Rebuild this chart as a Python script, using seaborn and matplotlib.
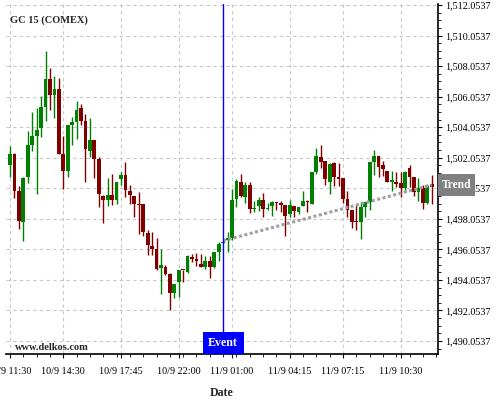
import matplotlib
matplotlib.use("Agg")
import matplotlib.pyplot as plt
import matplotlib.transforms as mtransforms
from matplotlib.patches import Rectangle
from matplotlib.ticker import FixedLocator, FuncFormatter
import numpy as np
import pandas as pd
import seaborn as sns


# 15-minute candles, GC 15 (COMEX)
opens = [
    1501.56, 1502.32, 1499.86, 1497.83, 1500.77, 1502.86, 1503.50, 1504.02, 1505.39, 1507.22,
    1506.13, 1506.57, 1502.32, 1501.17, 1504.22, 1504.41, 1505.33, 1504.48, 1502.52, 1503.24,
    1502.00, 1499.53, 1499.31, 1499.64, 1499.27, 1500.64, 1500.95, 1499.86, 1499.53, 1498.99,
    1499.05, 1497.15, 1496.29, 1496.09, 1494.86, 1494.91, 1494.45, 1493.21, 1493.92, 1494.73,
    1494.56, 1495.52, 1495.43, 1495.10, 1494.88, 1495.30, 1494.93, 1495.85, 1496.47, 1496.67,
    1496.82, 1499.35, 1500.45, 1499.50, 1500.25, 1498.67, 1498.89, 1499.30, 1498.71, 1498.89,
    1499.15, 1499.08, 1498.93, 1498.36, 1498.92, 1498.53, 1498.92, 1499.25, 1499.05, 1501.14,
    1502.12, 1501.81, 1500.48, 1501.72, 1500.81, 1500.75, 1499.33, 1498.66, 1497.92, 1497.83,
    1498.85, 1499.14, 1501.75, 1502.16, 1501.55, 1501.20, 1500.48, 1500.48, 1500.42, 1500.05,
    1501.35, 1500.81, 1499.83, 1500.09, 1499.07, 1500.31,
]
closes = [
    1502.32, 1499.86, 1497.94, 1500.75, 1502.91, 1503.50, 1503.89, 1505.39, 1507.22, 1506.13,
    1506.57, 1502.32, 1501.17, 1504.22, 1504.41, 1505.20, 1504.48, 1502.60, 1503.24, 1502.00,
    1499.66, 1499.27, 1499.64, 1499.27, 1500.49, 1500.95, 1499.92, 1499.64, 1499.05, 1498.94,
    1497.18, 1496.31, 1496.09, 1494.75, 1495.04, 1494.45, 1493.21, 1493.79, 1494.71, 1494.69,
    1495.61, 1495.43, 1495.26, 1494.93, 1495.30, 1494.93, 1495.85, 1496.42, 1496.56, 1496.82,
    1499.26, 1500.51, 1499.52, 1500.25, 1498.69, 1498.73, 1499.30, 1498.71, 1498.78, 1499.13,
    1499.08, 1498.97, 1498.25, 1498.93, 1498.57, 1498.85, 1499.25, 1499.14, 1501.14, 1502.18,
    1501.75, 1500.64, 1501.62, 1500.77, 1500.64, 1499.33, 1498.66, 1497.83, 1497.83, 1498.85,
    1499.14, 1501.75, 1502.16, 1501.42, 1501.33, 1500.48, 1500.62, 1500.31, 1500.05, 1501.14,
    1500.77, 1499.83, 1500.09, 1499.07, 1500.22, 1500.12,
]
highs = [
    1502.82, 1502.35, 1500.23, 1500.78, 1503.80, 1505.02, 1505.33, 1506.11, 1509.03, 1507.96,
    1507.40, 1507.27, 1503.50, 1504.22, 1504.70, 1505.76, 1505.59, 1504.93, 1504.67, 1503.24,
    1502.10, 1499.64, 1500.75, 1500.99, 1500.49, 1501.14, 1501.78, 1500.27, 1499.53, 1499.81,
    1499.05, 1497.30, 1497.21, 1496.77, 1496.07, 1495.02, 1494.51, 1493.79, 1494.71, 1494.73,
    1495.66, 1495.74, 1495.81, 1495.77, 1495.59, 1495.59, 1495.85, 1496.56, 1496.56, 1497.21,
    1500.03, 1500.69, 1501.02, 1500.45, 1500.47, 1499.24, 1499.46, 1499.72, 1499.08, 1499.19,
    1499.15, 1499.21, 1498.93, 1499.30, 1498.92, 1498.85, 1499.88, 1499.29, 1501.14, 1502.70,
    1502.88, 1501.81, 1501.72, 1501.79, 1501.68, 1500.75, 1499.88, 1498.66, 1498.96, 1499.14,
    1499.14, 1501.75, 1502.55, 1502.16, 1501.83, 1501.20, 1501.20, 1501.14, 1501.14, 1501.18,
    1501.57, 1500.81, 1500.70, 1500.27, 1500.31, 1500.92,
]
lows = [
    1500.82, 1499.44, 1497.40, 1496.61, 1500.40, 1502.49, 1499.70, 1503.43, 1504.46, 1505.20,
    1504.65, 1502.30, 1500.03, 1500.80, 1502.86, 1503.28, 1504.19, 1500.47, 1502.10, 1500.71,
    1498.83, 1497.79, 1498.86, 1498.94, 1499.03, 1500.27, 1499.49, 1499.01, 1498.20, 1497.05,
    1496.94, 1495.68, 1495.68, 1494.69, 1493.15, 1494.40, 1492.05, 1492.89, 1492.93, 1493.92,
    1494.51, 1495.21, 1494.99, 1494.88, 1494.77, 1494.18, 1494.80, 1495.28, 1496.45, 1495.90,
    1496.67, 1498.82, 1499.48, 1499.08, 1498.42, 1498.53, 1498.58, 1498.20, 1498.60, 1498.23,
    1498.62, 1498.53, 1496.95, 1498.20, 1498.20, 1498.38, 1498.90, 1498.48, 1499.05, 1500.96,
    1501.40, 1500.27, 1499.68, 1500.22, 1500.22, 1499.07, 1498.14, 1497.44, 1497.31, 1496.75,
    1498.14, 1498.62, 1500.92, 1500.81, 1500.88, 1500.44, 1499.88, 1500.16, 1499.51, 1499.88,
    1500.16, 1499.55, 1499.25, 1498.70, 1499.05, 1499.03,
]

tick_positions = [0, 12, 25, 38, 50, 63, 75, 88]
tick_labels = ["10/9 11:30", "10/9 14:30", "10/9 17:45", "10/9 22:00",
               "11/9 01:00", "11/9 04:15", "11/9 07:15", "11/9 10:30"]
price_ticks = [1490.0537, 1492.0537, 1494.0537, 1496.0537, 1498.0537,
               1500.0537, 1502.0537, 1504.0537, 1506.0537, 1508.0537,
               1510.0537, 1512.0537]

event_index = 48
trend_x = [48, 95]
trend_y = [1496.62, 1500.27]

UP = "#008000"
DOWN = "#800000"

sns.set_theme(style="white")
plt.rcParams["font.family"] = ["Liberation Serif", "DejaVu Serif"]

df = pd.DataFrame({"open": opens, "high": highs, "low": lows, "close": closes})
df["idx"] = np.arange(len(df))
df["color"] = np.where(df["close"] >= df["open"], UP, DOWN)
df["body_lo"] = df[["open", "close"]].min(axis=1)
df["body_h"] = (df["close"] - df["open"]).abs().clip(lower=0.07)

fig = plt.figure(figsize=(5, 4), dpi=100)
ax = fig.add_axes([0.012, 0.115, 0.864, 0.875])

ax.vlines(df["idx"], df["low"], df["high"], colors=df["color"], lw=1.0, zorder=3)
ax.bar(df["idx"], df["body_h"], bottom=df["body_lo"], width=0.85,
       color=df["color"], linewidth=0, zorder=4)

sns.lineplot(x=trend_x, y=trend_y, ax=ax, color="#a0a0a0", lw=2.2,
             linestyle=(0, (1, 0.8)), zorder=5)

ax.axvline(event_index, color="#0000ff", lw=1.0, zorder=6)

ax.set_xlim(-0.9, 96.4)
ax.set_ylim(1489.20, 1512.12)

ax.xaxis.set_major_locator(FixedLocator(tick_positions))
ax.set_xticklabels(tick_labels)
ax.xaxis.set_minor_locator(FixedLocator(np.arange(0, 97, 3)))
ax.yaxis.tick_right()
ax.yaxis.set_major_locator(FixedLocator(price_ticks))
ax.yaxis.set_minor_locator(FixedLocator(np.arange(1489.5537, 1512.2, 0.5)))
ax.yaxis.set_major_formatter(FuncFormatter(lambda v, p: f"{v:,.4f}"))

ax.tick_params(axis="both", which="major", direction="out", length=3, width=0.8,
               color="black", labelsize=7.3, labelcolor="black", pad=2)
ax.tick_params(axis="both", which="minor", direction="out", length=2, width=0.6,
               color="black")
ax.tick_params(axis="x", which="major", pad=6)
ax.tick_params(axis="y", which="both", right=True, left=False)
ax.tick_params(axis="x", which="both", bottom=True)

ax.grid(True, which="major", color="#c8c8c8", linestyle=(0, (3, 3)), lw=0.8)
for side in ["left", "top"]:
    ax.spines[side].set_visible(False)
for side in ["bottom", "right"]:
    ax.spines[side].set_visible(True)
    ax.spines[side].set_color("black")
    ax.spines[side].set_linewidth(1.2)

ax.set_xlabel("Date", fontsize=8.6, fontweight="bold", labelpad=8)
ax.set_ylabel("")

ax.text(0.009, 0.954, "GC 15 (COMEX)", transform=ax.transAxes, fontsize=7.5,
        fontweight="bold", ha="left", va="center")
ax.text(0.021, 0.018, "www.delkos.com", transform=ax.transAxes, fontsize=7.5,
        fontweight="bold", ha="left", va="center")

# Event marker box at the bottom of the event line
bx = mtransforms.blended_transform_factory(ax.transData, ax.transAxes)
ax.add_patch(Rectangle((event_index - 4.6, 0.0), 9.2, 0.063, transform=bx,
                       facecolor="#0000ff", edgecolor="none", zorder=7))
ax.text(event_index, 0.031, "Event", transform=bx, color="white", fontsize=8.6,
        fontweight="bold", ha="center", va="center", zorder=8)

# Trend label box to the right of the axes
ty = mtransforms.blended_transform_factory(ax.transAxes, ax.transData)
ax.add_patch(Rectangle((1.0, trend_y[-1] - 0.72), 0.0856, 1.44, transform=ty,
                       facecolor="#808080", edgecolor="none", zorder=10,
                       clip_on=False))
ax.text(1.043, trend_y[-1], "Trend", transform=ty, color="white", fontsize=8.3,
        fontweight="bold", ha="center", va="center", zorder=11, clip_on=False)

fig.savefig("out.png", dpi=100)
